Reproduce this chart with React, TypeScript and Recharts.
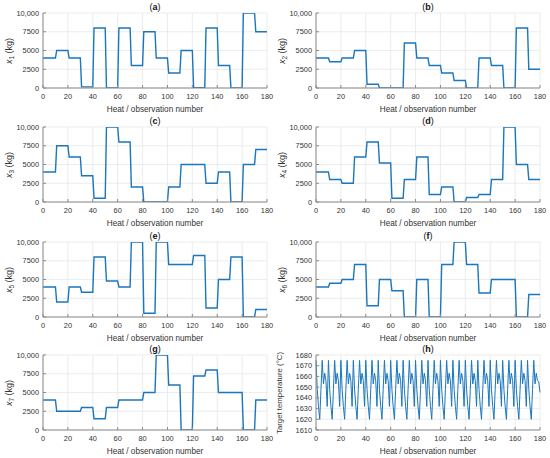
import React from "react";
import { LineChart, Line, XAxis, YAxis, CartesianGrid } from "recharts";

// heat / observation numbers 0..180
const heats: number[] = Array.from({ length: 181 }, (_, i) => i);

// charge weights (kg), one value per block of 10 heats
const x1Steps = [4000, 5000, 4000, 150, 8000, 0, 8000, 3000, 7500, 4000, 2000, 5000, 50, 8000, 3000, 0, 10000, 7500];
const x2Steps = [4000, 3500, 4000, 5000, 500, 0, 0, 6000, 4000, 3000, 2000, 1000, 0, 4000, 3000, 0, 8000, 2500];
const x3Steps = [4000, 7500, 6000, 3500, 500, 10000, 8000, 2000, 0, 0, 2000, 5000, 5000, 2500, 4000, 0, 5000, 7000];
const x4Steps = [4000, 3000, 2500, 6000, 8000, 5200, 500, 3000, 6000, 1000, 2000, 0, 600, 1000, 3000, 10000, 5000, 3000];
const x5Steps = [4000, 2000, 4000, 3300, 8000, 4800, 4000, 10000, 500, 10000, 7000, 7000, 8200, 1200, 5000, 8000, 0, 1000];
const x6Steps = [4000, 4500, 5000, 7000, 1500, 5000, 3500, 0, 5000, 0, 7000, 10000, 7000, 3200, 5000, 5000, 0, 3000];
const x7Steps = [4000, 2500, 2500, 3000, 1500, 3000, 4000, 4000, 5000, 10000, 6000, 0, 7200, 8000, 5000, 5000, 0, 4000];

// target temperature (°C) per heat
const targetTemp = [
  1675, 1648, 1632, 1620, 1648, 1675, 1653, 1663, 1656, 1632,
  1675, 1648, 1632, 1620, 1648, 1675, 1653, 1663, 1656, 1632,
  1675, 1648, 1632, 1620, 1648, 1675, 1653, 1663, 1656, 1632,
  1675, 1648, 1632, 1620, 1648, 1675, 1653, 1663, 1656, 1632,
  1675, 1648, 1632, 1620, 1648, 1675, 1653, 1663, 1656, 1632,
  1675, 1648, 1632, 1620, 1648, 1675, 1653, 1663, 1656, 1632,
  1675, 1648, 1632, 1620, 1648, 1675, 1653, 1663, 1656, 1632,
  1675, 1648, 1632, 1620, 1648, 1675, 1653, 1663, 1656, 1632,
  1675, 1648, 1632, 1620, 1648, 1675, 1653, 1663, 1656, 1632,
  1675, 1648, 1632, 1620, 1648, 1675, 1653, 1663, 1656, 1632,
  1675, 1648, 1632, 1620, 1648, 1675, 1653, 1663, 1656, 1632,
  1675, 1648, 1632, 1620, 1648, 1675, 1653, 1663, 1656, 1632,
  1675, 1648, 1632, 1620, 1648, 1675, 1653, 1663, 1656, 1632,
  1675, 1648, 1632, 1620, 1648, 1675, 1653, 1663, 1656, 1632,
  1675, 1648, 1632, 1620, 1648, 1675, 1653, 1663, 1656, 1632,
  1675, 1648, 1632, 1620, 1648, 1675, 1653, 1663, 1656, 1632,
  1675, 1648, 1632, 1620, 1648, 1675, 1653, 1663, 1656, 1632,
  1675, 1648, 1632, 1620, 1648, 1675, 1653, 1663, 1656, 1655,
  1645,
];

const xTicks = [0, 20, 40, 60, 80, 100, 120, 140, 160, 180];
const kgTicks = [0, 2500, 5000, 7500, 10000];
const tempTicks = [1610, 1620, 1630, 1640, 1650, 1660, 1670, 1680];

const stepAt = (steps: number[], i: number) => steps[i === 0 ? 0 : Math.floor((i - 1) / 10)];

const data = heats.map((h) => ({
  heat: h,
  x1: stepAt(x1Steps, h),
  x2: stepAt(x2Steps, h),
  x3: stepAt(x3Steps, h),
  x4: stepAt(x4Steps, h),
  x5: stepAt(x5Steps, h),
  x6: stepAt(x6Steps, h),
  x7: stepAt(x7Steps, h),
  temp: targetTemp[h],
}));

const W = 275;
const H = 116;
const TOP = 13;
const AXIS = "#8a8a8a";
const TEXT = "#333";
const blank = () => "";
const kgFmt = (v: number) => (v === 10000 ? "10,000" : String(v));

interface PanelProps {
  left: number;
  top: number;
  letter: string;
  dataKey: string;
  yLabel: React.ReactNode;
  plotLeft: number;
  plotRight: number;
  domain?: [number, number];
  ticks?: number[];
  fmt?: (v: number) => string;
  labelX?: number;
  labelSize?: number;
  thin?: boolean;
}

const Panel: React.FC<PanelProps> = ({
  left,
  top,
  letter,
  dataKey,
  yLabel,
  plotLeft,
  plotRight,
  domain = [0, 10000],
  ticks = kgTicks,
  fmt = kgFmt,
  labelX,
  labelSize = 9,
  thin = false,
}) => {
  const cx = labelX ?? plotLeft - 34;
  const cy = TOP + 37.5;
  return (
    <div style={{ position: "absolute", left, top, width: W, height: H }}>
      <LineChart
        width={W}
        height={H}
        data={data}
        margin={{ top: TOP, right: W - plotRight, bottom: 0, left: plotLeft - 30 }}
      >
        <CartesianGrid stroke="#e4e4e4" strokeWidth={0.7} />
        <XAxis
          dataKey="heat"
          type="number"
          domain={[0, 180]}
          ticks={xTicks}
          interval={0}
          height={28}
          tickSize={-3}
          tickMargin={9}
          stroke={AXIS}
          tick={{ fontSize: 7.4, fill: TEXT }}
          label={{ value: "Heat / observation number", position: "insideBottom", offset: 4, fontSize: 8.2, fill: TEXT }}
        />
        <XAxis
          xAxisId="top"
          orientation="top"
          type="number"
          domain={[0, 180]}
          ticks={xTicks}
          interval={0}
          height={0}
          tickSize={-3}
          tickFormatter={blank}
          stroke={AXIS}
        />
        <YAxis
          type="number"
          domain={domain}
          ticks={ticks}
          interval={0}
          width={30}
          tickSize={-3}
          tickMargin={7}
          stroke={AXIS}
          tick={{ fontSize: 7.4, fill: TEXT }}
          tickFormatter={fmt}
          allowDataOverflow
        />
        <YAxis
          yAxisId="right"
          orientation="right"
          type="number"
          domain={domain}
          ticks={ticks}
          interval={0}
          width={0}
          tickSize={-3}
          tickFormatter={blank}
          stroke={AXIS}
        />
        <Line
          dataKey={dataKey}
          type="linear"
          stroke="#1a76bd"
          strokeWidth={thin ? 1 : 1.4}
          dot={false}
          isAnimationActive={false}
        />
      </LineChart>
      <div
        style={{
          position: "absolute",
          left: plotLeft,
          width: plotRight - plotLeft,
          top: 1,
          lineHeight: "12px",
          fontSize: 9,
          textAlign: "center",
          color: "#111",
        }}
      >
        (<b>{letter}</b>)
      </div>
      <div
        style={{
          position: "absolute",
          left: cx - 50,
          top: cy - 6,
          width: 100,
          height: 12,
          lineHeight: "12px",
          fontSize: labelSize,
          textAlign: "center",
          color: TEXT,
          transform: "rotate(-90deg)",
          whiteSpace: "nowrap",
        }}
      >
        {yLabel}
      </div>
    </div>
  );
};

const kgLabel = (n: number) => (
  <span>
    <i>x</i>
    <sub style={{ fontSize: 6.5, verticalAlign: "-2px" }}>{n}</sub> (kg)
  </span>
);

export default function App() {
  return (
    <div
      style={{
        position: "absolute",
        left: 0,
        top: 0,
        width: 550,
        height: 458,
        background: "#fff",
        fontFamily: "'Liberation Sans', Arial, sans-serif",
      }}
    >
      <Panel left={0} top={0} letter="a" dataKey="x1" yLabel={kgLabel(1)} plotLeft={43} plotRight={267} />
      <Panel left={275} top={0} letter="b" dataKey="x2" yLabel={kgLabel(2)} plotLeft={41} plotRight={265} />
      <Panel left={0} top={114} letter="c" dataKey="x3" yLabel={kgLabel(3)} plotLeft={43} plotRight={267} />
      <Panel left={275} top={114} letter="d" dataKey="x4" yLabel={kgLabel(4)} plotLeft={41} plotRight={265} />
      <Panel left={0} top={229} letter="e" dataKey="x5" yLabel={kgLabel(5)} plotLeft={43} plotRight={267} />
      <Panel left={275} top={229} letter="f" dataKey="x6" yLabel={kgLabel(6)} plotLeft={41} plotRight={265} />
      <Panel left={0} top={342} letter="g" dataKey="x7" yLabel={kgLabel(7)} plotLeft={43} plotRight={267} />
      <Panel
        left={275}
        top={342}
        letter="h"
        dataKey="temp"
        yLabel="Target temperature (°C)"
        plotLeft={41}
        plotRight={265}
        domain={[1610, 1680]}
        ticks={tempTicks}
        fmt={(v: number) => String(v)}
        labelX={5}
        labelSize={7.8}
        thin
      />
    </div>
  );
}
